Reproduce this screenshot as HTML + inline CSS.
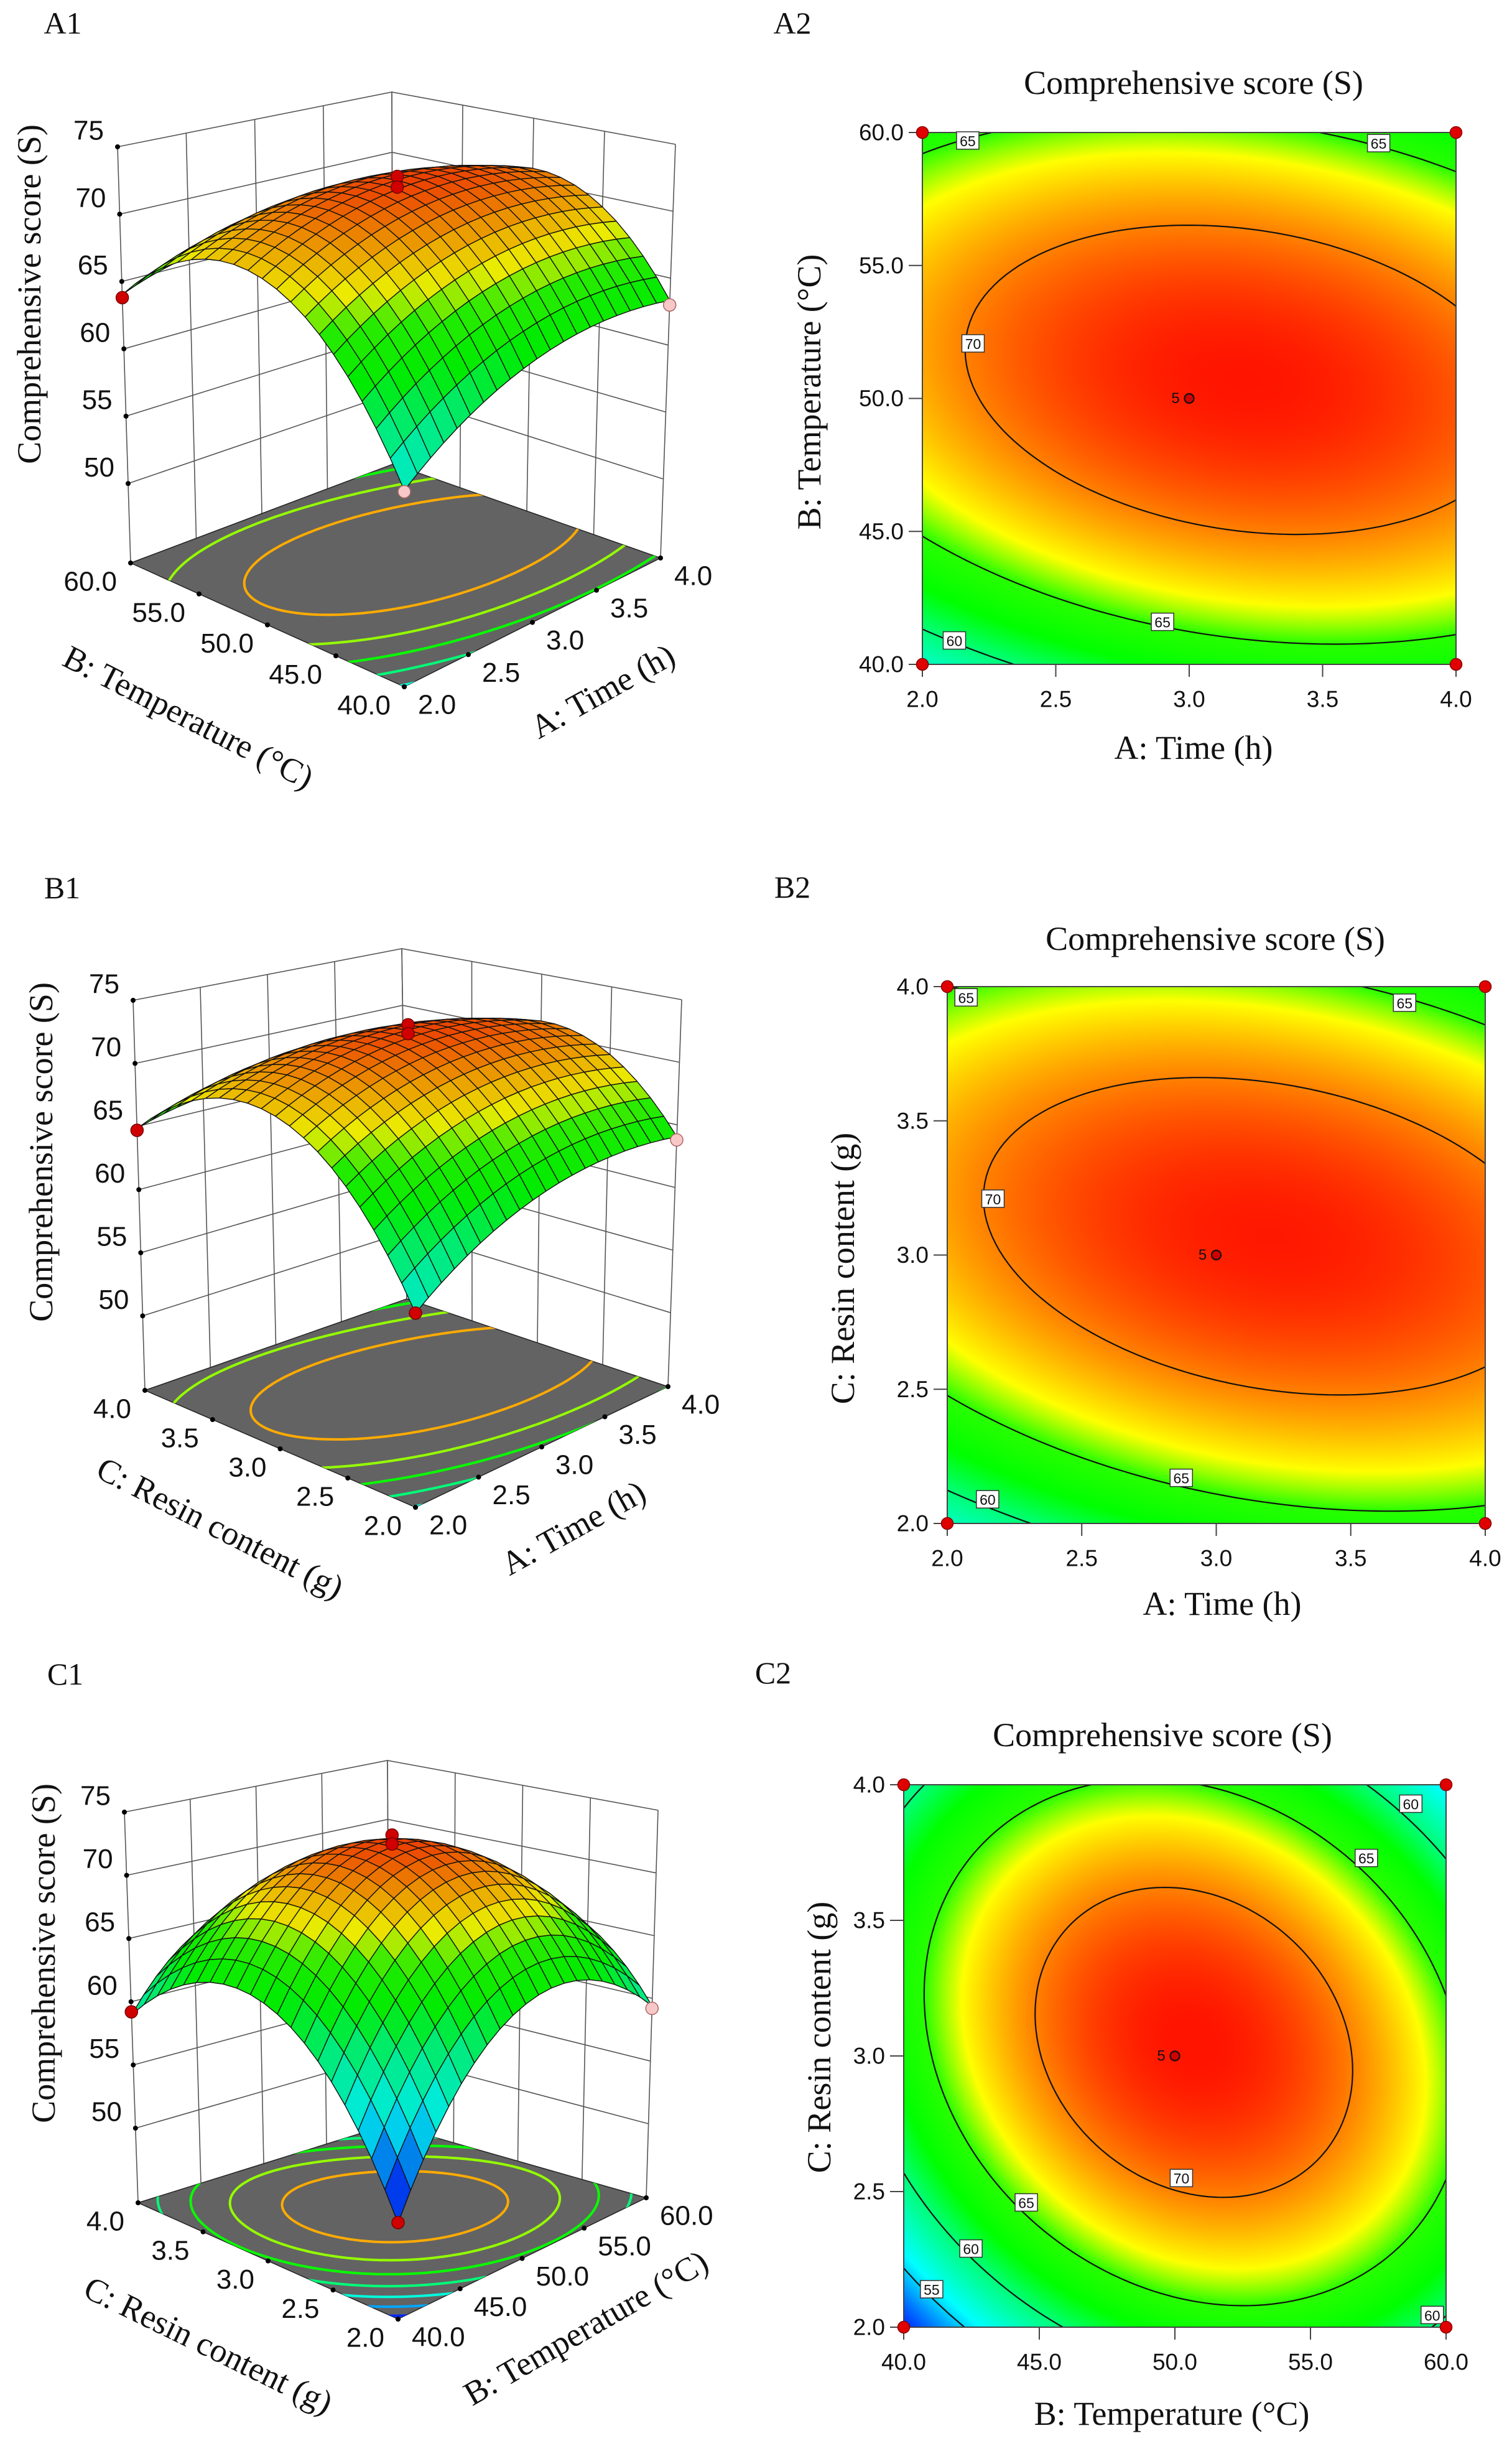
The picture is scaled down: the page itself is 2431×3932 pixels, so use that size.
<!DOCTYPE html>
<html><head><meta charset="utf-8"><title>Response surface plots</title>
<style>
body{margin:0;width:2431px;height:3932px;position:relative;background:#fff;overflow:hidden}
canvas{position:absolute}
svg{position:absolute;left:0;top:0}
.serif{font-family:"Liberation Serif",serif;fill:#111}
.sans{font-family:"Liberation Sans",sans-serif;fill:#111}
</style></head>
<body>
<canvas id="hmA" style="left:1483px;top:213px" width="858" height="855"></canvas>
<canvas id="hmB" style="left:1523px;top:1586px" width="865" height="863"></canvas>
<canvas id="hmC" style="left:1453px;top:2869px" width="872" height="872"></canvas>
<svg id="main" width="2431" height="3932" xmlns="http://www.w3.org/2000/svg">
<g class="serif" font-size="50" text-anchor="middle" dominant-baseline="central">
<text x="101" y="37">A1</text>
<text x="1274" y="37">A2</text>
<text x="100" y="1427">B1</text>
<text x="1274" y="1426">B2</text>
<text x="105" y="2691">C1</text>
<text x="1243" y="2689">C2</text>
</g>
<g class="serif" font-size="54" text-anchor="middle" dominant-baseline="central">
<text x="1919" y="133">Comprehensive score (S)</text>
<text x="1954" y="1509">Comprehensive score (S)</text>
<text x="1869" y="2789">Comprehensive score (S)</text>
<text x="1919" y="1202">A: Time (h)</text>
<text x="1965" y="2578">A: Time (h)</text>
<text x="1884" y="3880">B: Temperature (°C)</text>
<text transform="translate(1301,630) rotate(-90)">B: Temperature (°C)</text>
<text transform="translate(1355,2039) rotate(-90)">C: Resin content (g)</text>
<text transform="translate(1317,3275) rotate(-90)">C: Resin content (g)</text>
<text transform="translate(47,473) rotate(-90)">Comprehensive score (S)</text>
<text transform="translate(66,1852) rotate(-90)">Comprehensive score (S)</text>
<text transform="translate(70,3140) rotate(-90)">Comprehensive score (S)</text>
<text transform="translate(303,1153) rotate(27)">B: Temperature (°C)</text>
<text transform="translate(969,1111) rotate(-29)">A: Time (h)</text>
<text transform="translate(354,2456) rotate(27)">C: Resin content (g)</text>
<text transform="translate(922,2456) rotate(-29)">A: Time (h)</text>
<text transform="translate(335,3770) rotate(26)">C: Resin content (g)</text>
<text transform="translate(942,3742) rotate(-30)">B: Temperature (°C)</text>
</g>
</svg>
<script>
// ---- data ----
const A_TICKS=[2.0,2.5,3.0,3.5,4.0];
const B_TICKS=[40,45,50,55,60];
const C_TICKS=[2.0,2.5,3.0,3.5,4.0];
const Z_TICKS=[50,55,60,65,70,75];
// quadratic models: [peak, centerX, centerY, kX, kY, kXY]
const MODEL_AB=[72.6,3.2,50.7,2.5,0.080,0.175];
const MODEL_AC=[72.5,3.2,3.07,2.34,7.6,2.05];
const MODEL_BC=[72.65,50.7,3.05,0.080,8.4,0.3];
const LEVELS_2D=[55,60,65,70];
const LEVELS_FLOOR=[52,55,58,61,64,67,70];
const LAB_A2_X=[2.17,3.71,2.19,2.90,2.12];
const LAB_A2_Y=[59.7,59.6,52.07,41.6,40.9];
const LAB_A2_T=['65','65','70','65','60'];
const LAB_B2_X=[2.07,3.70,2.17,2.87,2.15];
const LAB_B2_Y=[3.96,3.94,3.21,2.17,2.09];
const LAB_B2_T=['65','65','70','65','60'];
const LAB_C2_X=[58.7,57.06,50.24,44.52,42.48,41.03,59.49];
const LAB_C2_Y=[3.93,3.73,2.55,2.46,2.29,2.14,2.045];
const LAB_C2_T=['60','65','70','65','60','55','60'];
const PTS_A1_U=[3,3,2,4,2], PTS_A1_V=[50,50,60,40,40], PTS_A1_Z=[73.4,72.6,63.8,63.0,57.5], PTS_A1_UP=[1,1,1,0,0];
const PTS_B1_U=[3,3,2,4,2], PTS_B1_V=[3,3,4,2,2], PTS_B1_Z=[73.4,72.7,64.7,63.8,57.8], PTS_B1_UP=[1,1,1,0,1];
const PTS_C1_U=[50,50,40,60,40], PTS_C1_V=[3,3,4,2,2], PTS_C1_Z=[73.5,72.8,59.2,59.2,50.9], PTS_C1_UP=[1,1,1,0,1];
const STOP_V=[50,53,56,60,62.5,65,67,69.5,72.6];
const STOP_C=[[0,0,255],[0,120,255],[0,255,255],[0,255,120],[0,255,0],[40,255,0],[255,255,0],[255,150,0],[255,20,0]];

const NS='http://www.w3.org/2000/svg';
const svg=document.getElementById('main');
function mk(tag,attrs,parent){const e=document.createElementNS(NS,tag);for(const k in attrs)e.setAttribute(k,attrs[k]);(parent||svg).appendChild(e);return e;}
function S(m,x,y){const dx=x-m[1],dy=y-m[2];return m[0]-m[3]*dx*dx-m[4]*dy*dy-m[5]*dx*dy;}
function cmap(v){
  if(v<=STOP_V[0])return STOP_C[0];
  for(let i=1;i<STOP_V.length;i++){if(v<=STOP_V[i]){const t=(v-STOP_V[i-1])/(STOP_V[i]-STOP_V[i-1]);const a=STOP_C[i-1],b=STOP_C[i];return [a[0]+(b[0]-a[0])*t,a[1]+(b[1]-a[1])*t,a[2]+(b[2]-a[2])*t];}}
  return STOP_C[STOP_C.length-1];
}
function rgb(c){return 'rgb('+Math.round(c[0])+','+Math.round(c[1])+','+Math.round(c[2])+')';}
function ellipse(m,L,xr,yr){
  const pts=[];const hx=(xr[1]-xr[0])/2,hy=(yr[1]-yr[0])/2;
  if(L>=m[0])return pts;
  for(let i=0;i<=240;i++){const t=i/240*2*Math.PI;const dx=Math.cos(t)*hx,dy=Math.sin(t)*hy;
    const q=m[3]*dx*dx+m[4]*dy*dy+m[5]*dx*dy;const r=Math.sqrt((m[0]-L)/q);
    pts.push([m[1]+r*dx,m[2]+r*dy]);}
  return pts;
}
function fmt(v){return v.toFixed(1);}

// ---- 2D contour plots ----
const P2=[
 {key:'a2',model:MODEL_AB,xr:[2,4],yr:[40,60],rect:[1483,213,2341,1068],xt:A_TICKS,yt:B_TICKS,cv:'hmA',lx:LAB_A2_X,ly:LAB_A2_Y,lt:LAB_A2_T,cx:3,cy:50},
 {key:'b2',model:MODEL_AC,xr:[2,4],yr:[2,4],rect:[1523,1586,2388,2449],xt:A_TICKS,yt:C_TICKS,cv:'hmB',lx:LAB_B2_X,ly:LAB_B2_Y,lt:LAB_B2_T,cx:3,cy:3},
 {key:'c2',model:MODEL_BC,xr:[40,60],yr:[2,4],rect:[1453,2869,2325,3741],xt:B_TICKS,yt:C_TICKS,cv:'hmC',lx:LAB_C2_X,ly:LAB_C2_Y,lt:LAB_C2_T,cx:50,cy:3}
];
P2.forEach(p=>{
  const [X0,Y0,X1,Y1]=p.rect;const W=X1-X0,H=Y1-Y0;
  const sx=v=>X0+(v-p.xr[0])/(p.xr[1]-p.xr[0])*W;
  const sy=v=>Y1-(v-p.yr[0])/(p.yr[1]-p.yr[0])*H;
  const cv=document.getElementById(p.cv);const ctx=cv.getContext('2d');
  const img=ctx.createImageData(cv.width,cv.height);
  for(let j=0;j<cv.height;j++){const yv=p.yr[1]-(j+0.5)/cv.height*(p.yr[1]-p.yr[0]);
    for(let i=0;i<cv.width;i++){const xv=p.xr[0]+(i+0.5)/cv.width*(p.xr[1]-p.xr[0]);
      const c=cmap(S(p.model,xv,yv));const k=(j*cv.width+i)*4;img.data[k]=c[0];img.data[k+1]=c[1];img.data[k+2]=c[2];img.data[k+3]=255;}}
  ctx.putImageData(img,0,0);
  const g=mk('g',{});
  
  
  const cp=mk('clipPath',{id:'clip-'+p.key},g);
  mk('rect',{x:X0,y:Y0,width:W,height:H},cp);
  const cg=mk('g',{'clip-path':'url(#clip-'+p.key+')'},g);
  LEVELS_2D.forEach(L=>{
    const pts=ellipse(p.model,L,p.xr,p.yr);if(!pts.length)return;
    const d='M'+pts.map(q=>sx(q[0]).toFixed(1)+','+sy(q[1]).toFixed(1)).join('L')+'Z';
    const path=mk('path',{d:d,fill:'none',stroke:'#111','stroke-width':2.2},cg);
    
    
  });
  const border=mk('rect',{x:X0,y:Y0,width:W,height:H,fill:'none',stroke:'#444','stroke-width':2},g);
  
  
  p.xt.forEach(t=>{
    const x=sx(t);
    const tk=mk('line',{x1:x,y1:Y1,x2:x,y2:Y1+20,stroke:'#444','stroke-width':2},g);
    
    
    const tl=mk('text',{x:x,y:Y1+56,'font-size':37,'text-anchor':'middle','dominant-baseline':'central',class:'sans'},g);
    tl.textContent=fmt(t);
    
    
  });
  p.yt.forEach(t=>{
    const y=sy(t);
    const tk=mk('line',{x1:X0-22,y1:y,x2:X0,y2:y,stroke:'#444','stroke-width':2},g);
    
    
    const tl=mk('text',{x:X0-30,y:y,'font-size':37,'text-anchor':'end','dominant-baseline':'central',class:'sans'},g);
    tl.textContent=fmt(t);
    
    
  });
  p.lt.forEach((t,i)=>{
    const x=sx(p.lx[i]),y=sy(p.ly[i]);
    const bx=mk('rect',{x:x-18,y:y-14,width:36,height:28,fill:'#fff',stroke:'#333','stroke-width':1.5},g);
    
    
    const tx=mk('text',{x:x,y:y+1,'font-size':23,'text-anchor':'middle','dominant-baseline':'central',class:'sans'},g);
    tx.textContent=t;
    
    
  });
  [[p.xr[0],p.yr[0]],[p.xr[1],p.yr[0]],[p.xr[0],p.yr[1]],[p.xr[1],p.yr[1]]].forEach(c=>{
    const dot=mk('circle',{cx:sx(c[0]),cy:sy(c[1]),r:9.5,fill:'#e00000',stroke:'#8a0000','stroke-width':1.5},g);
    
    
  });
  const cd=mk('circle',{cx:sx(p.cx),cy:sy(p.cy),r:7.5,fill:'#d00000',stroke:'#111','stroke-width':2.2},g);
  
  
  const ct=mk('text',{x:sx(p.cx)-22,y:sy(p.cy),'font-size':24,'text-anchor':'middle','dominant-baseline':'central',class:'sans'},g);
  ct.textContent='5';
  
  
});

// ---- 3D surface plots ----
const ZMIN=44.1,ZMAX=75;
const P3=[
 {key:'a1',model:MODEL_AB,ur:[2,4],vr:[40,60],ut:A_TICKS,vt:B_TICKS,
  F:[[650,1104],[1062,897],[210,905],[632,746]],T:[[650,381],[1086,232],[189,236],[630,148]],
  pu:PTS_A1_U,pv:PTS_A1_V,pz:PTS_A1_Z,pup:PTS_A1_UP},
 {key:'b1',model:MODEL_AC,ur:[2,4],vr:[2,4],ut:A_TICKS,vt:C_TICKS,
  F:[[668,2423],[1074,2229],[233,2235],[654,2088]],T:[[668,1719],[1096,1607],[214,1608],[646,1525]],
  pu:PTS_B1_U,pv:PTS_B1_V,pz:PTS_B1_Z,pup:PTS_B1_UP},
 {key:'c1',model:MODEL_BC,ur:[40,60],vr:[2,4],ut:B_TICKS,vt:C_TICKS,
  F:[[640,3728],[1039,3533],[222,3541],[626,3415]],T:[[640,3023],[1058,2910],[200,2913],[623,2830]],
  pu:PTS_C1_U,pv:PTS_C1_V,pz:PTS_C1_Z,pup:PTS_C1_UP}
];
P3.forEach(p=>{
  const nu=x=>(x-p.ur[0])/(p.ur[1]-p.ur[0]);
  const nv=y=>(y-p.vr[0])/(p.vr[1]-p.vr[0]);
  function pr(u,v,z){
    const f=(z-ZMIN)/(ZMAX-ZMIN);
    const c=[0,1,2,3].map(k=>[p.F[k][0]+f*(p.T[k][0]-p.F[k][0]),p.F[k][1]+f*(p.T[k][1]-p.F[k][1])]);
    const w=[(1-u)*(1-v),u*(1-v),(1-u)*v,u*v];
    return [w[0]*c[0][0]+w[1]*c[1][0]+w[2]*c[2][0]+w[3]*c[3][0], w[0]*c[0][1]+w[1]*c[1][1]+w[2]*c[2][1]+w[3]*c[3][1]];
  }
  const P=(u,v,z)=>{const q=pr(u,v,z);return q[0].toFixed(1)+','+q[1].toFixed(1);};
  const g=mk('g',{});
  
  
  const wall=mk('g',{stroke:'#555','stroke-width':1.6,fill:'none'},g);
  
  
  p.ut.forEach(t=>{const u=nu(t);mk('path',{d:'M'+P(u,1,ZMIN)+'L'+P(u,1,ZMAX)},wall);});
  p.vt.forEach(t=>{const v=nv(t);mk('path',{d:'M'+P(1,v,ZMIN)+'L'+P(1,v,ZMAX)},wall);});
  Z_TICKS.forEach(z=>{mk('path',{d:'M'+P(0,1,z)+'L'+P(1,1,z)+'L'+P(1,0,z)},wall);});
  const floor=mk('path',{d:'M'+P(0,0,ZMIN)+'L'+P(1,0,ZMIN)+'L'+P(1,1,ZMIN)+'L'+P(0,1,ZMIN)+'Z',fill:'#636363',stroke:'#222','stroke-width':1.5},g);
  
  
  const cp=mk('clipPath',{id:'clip-'+p.key},g);
  mk('path',{d:'M'+P(0,0,ZMIN)+'L'+P(1,0,ZMIN)+'L'+P(1,1,ZMIN)+'L'+P(0,1,ZMIN)+'Z'},cp);
  const fc=mk('g',{'clip-path':'url(#clip-'+p.key+')',fill:'none','stroke-width':4},g);
  LEVELS_FLOOR.forEach(L=>{
    const pts=ellipse(p.model,L,p.ur,p.vr);if(!pts.length)return;
    const d='M'+pts.map(q=>P(nu(q[0]),nv(q[1]),ZMIN)).join('L')+'Z';
    const path=mk('path',{d:d,stroke:rgb(cmap(L-1))},fc);
    
    
  });
  p.ut.forEach(t=>{
    const q=pr(nu(t),0,ZMIN);
    const d=mk('circle',{cx:q[0],cy:q[1],r:4,fill:'#000'},g);
    
    
    const tl=mk('text',{x:q[0]+22,y:q[1]+29,'font-size':44,'text-anchor':'start','dominant-baseline':'central',class:'sans'},g);
    tl.textContent=fmt(t);
    
    
  });
  p.vt.forEach(t=>{
    const q=pr(0,nv(t),ZMIN);
    const d=mk('circle',{cx:q[0],cy:q[1],r:4,fill:'#000'},g);
    
    
    const tl=mk('text',{x:q[0]-22,y:q[1]+30,'font-size':44,'text-anchor':'end','dominant-baseline':'central',class:'sans'},g);
    tl.textContent=fmt(t);
    
    
  });
  Z_TICKS.forEach(z=>{
    const q=pr(0,1,z);
    const d=mk('circle',{cx:q[0],cy:q[1],r:4,fill:'#000'},g);
    
    
    const tl=mk('text',{x:q[0]-22,y:q[1]-26,'font-size':44,'text-anchor':'end','dominant-baseline':'central',class:'sans'},g);
    tl.textContent=String(z);
    
    
  });
  const N=20;const sg=mk('g',{stroke:'#111','stroke-width':1.4,'stroke-linejoin':'round'},g);
  
  
  const quads=[];
  for(let i=0;i<N;i++)for(let j=0;j<N;j++)quads.push([i,j]);
  quads.sort((a,b)=>(b[0]+b[1])-(a[0]+a[1]));
  const val=(i,j)=>S(p.model,p.ur[0]+i/N*(p.ur[1]-p.ur[0]),p.vr[0]+j/N*(p.vr[1]-p.vr[0]));
  quads.forEach(([i,j])=>{
    const z00=val(i,j),z10=val(i+1,j),z11=val(i+1,j+1),z01=val(i,j+1);
    const avg=(z00+z10+z11+z01)/4;
    const d='M'+P(i/N,j/N,z00)+'L'+P((i+1)/N,j/N,z10)+'L'+P((i+1)/N,(j+1)/N,z11)+'L'+P(i/N,(j+1)/N,z01)+'Z';
    const c=cmap(avg-1.2);const sh=0.92;
    const q=mk('path',{d:d,fill:rgb([c[0]*sh,c[1]*sh,c[2]*sh])},sg);
    
    
  });
  p.pu.forEach((u,k)=>{
    const q=pr(nu(u),nv(p.pv[k]),p.pz[k]);
    const c=mk('circle',{cx:q[0],cy:q[1],r:10,fill:p.pup[k]?'#d00000':'#f8c8c8',stroke:p.pup[k]?'#700':'#a66','stroke-width':1.5},g);
    
    
  });
});
</script>
</body></html>
